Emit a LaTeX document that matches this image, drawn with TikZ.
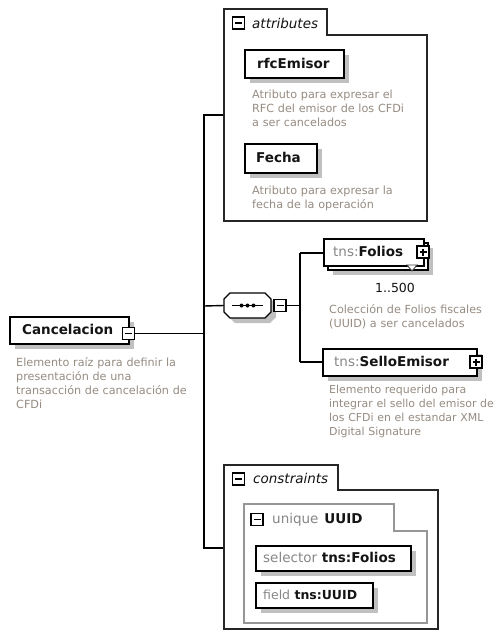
\documentclass[tikz,border=0pt]{standalone}
\usepackage{fontspec}
\setmainfont{DejaVu Sans}
\usetikzlibrary{shadows}
\definecolor{desccol}{RGB}{150,140,130}
\definecolor{lblgray}{RGB}{135,135,135}
\definecolor{shadowcol}{RGB}{192,192,192}
\definecolor{namecol}{RGB}{20,20,20}
\definecolor{uniqgray}{RGB}{150,150,150}
\begin{document}
\begin{tikzpicture}[x=1pt,y=-1pt,
  conn/.style={draw=black,line width=1.4pt},
  elbox/.style={draw=black,line width=1.5pt,fill=white,inner sep=0pt,anchor=north west,
     drop shadow={shadow xshift=5pt,shadow yshift=-5pt,fill=shadowcol,opacity=1}},
  elboxns/.style={draw=black,line width=1.5pt,fill=white,inner sep=0pt,anchor=north west},
  nametxt/.style={font=\fontsize{13.5}{16}\selectfont\bfseries,text=namecol,inner sep=0pt,anchor=base west},
  desc/.style={font=\fontsize{11.2}{14}\selectfont,text=desccol,align=left,text width=200pt,inner sep=0pt,anchor=base west},
  hdr/.style={font=\fontsize{13.5}{16}\selectfont\itshape,text=namecol,inner sep=0pt,anchor=base west},
  pmbox/.style={draw=black,line width=1.6pt,fill=white,minimum size=12pt,inner sep=0pt},
  minusbox/.style={pmbox,path picture={\draw[line width=1.3pt] ([xshift=2.5pt]path picture bounding box.west) -- ([xshift=-2.5pt]path picture bounding box.east);}},
  plusbox/.style={pmbox,path picture={
     \draw[line width=1.3pt] ([xshift=2.5pt]path picture bounding box.west) -- ([xshift=-2.5pt]path picture bounding box.east);
     \draw[line width=1.3pt] ([yshift=-2.5pt]path picture bounding box.north) -- ([yshift=2.5pt]path picture bounding box.south);}},
  container/.style={draw=black!85,line width=1.1pt,fill=white},
  ucontainer/.style={draw=uniqgray,line width=1.2pt,fill=white},
]
\useasboundingbox (0,0) rectangle (496,632);
\fill[white] (0,0) rectangle (496,632);

% ---------- root element ----------
\node[elbox,minimum width=119pt,minimum height=27pt] (canc) at (9,316) {};
\node[nametxt] (cancT) at (22,334.5) {Cancelacion};
\node[minusbox] (cancpm) at (128.5,333.5) {};
\node[desc] (cancD) at (16,366) {Elemento raíz para definir la\\presentación de una\\transacción de cancelación de\\CFDi};

% ---------- trunk ----------
\coordinate (jc) at (204,333.5);
\coordinate (jt) at (204,115);
\coordinate (js) at (204,306);
\coordinate (jb) at (204,548);
\coordinate (attrL) at (224,115);
\coordinate (consL) at (224,548);
\draw[conn] (cancpm.east) -- (jc);
\draw[conn] (attrL) -- (jt) -- (jb) -- (consL);

% ---------- attributes ----------
\draw[container] (224,221) -- (224,9) -- (327,9) -- (327,35) -- (427,35) -- (427,221) -- cycle;
\node[minusbox] (attrpm) at (238.5,23) {};
\node[hdr] (attrT) at (252,28) {attributes};

\node[elbox,minimum width=99pt,minimum height=28pt] (rfc) at (244,49) {};
\node[nametxt] (rfcT) at (257,68) {rfcEmisor};
\node[desc] (rfcD) at (252,98) {Atributo para expresar el\\RFC del emisor de los CFDi\\a ser cancelados};

\node[elbox,minimum width=72pt,minimum height=29pt] (fecha) at (244,143) {};
\node[nametxt] (fechaT) at (256,162.5) {Fecha};
\node[desc] (fechaD) at (252,194) {Atributo para expresar la\\fecha de la operación};

% ---------- sequence ----------
\fill[shadowcol] (235,298) -- (270,298) -- (276,304) -- (276,317) -- (270,323) -- (235,323) -- (229,317) -- (229,304) -- cycle;
\draw[fill=white,line width=1.3pt] (230,293) -- (265,293) -- (271,299) -- (271,312) -- (265,318) -- (230,318) -- (224,312) -- (224,299) -- cycle;
\node[minimum width=47pt,minimum height=25pt,inner sep=0pt] (seq) at (247.5,305.5) {};
\draw[line width=1.2pt] (232,305.5) -- (263,305.5);
\fill (241.5,305.5) circle (2) (247.5,305.5) circle (2) (253.5,305.5) circle (2);
\node[minusbox] (seqpm) at (280,305.5) {};
\draw[conn] (js) -- (seq.west);
\coordinate (sj) at (300,305.5);
\coordinate (sjt) at (300,253);
\coordinate (sjb) at (300,362);
\draw[conn] (seqpm.east) -- (sj);
\draw[conn] (sjt) -- (sjb);

% ---------- Folios ----------
\node[elbox,minimum width=100pt,minimum height=27pt] (folB) at (327,242) {};
\node[elboxns,minimum width=100pt,minimum height=27pt] (folF) at (323,238) {};
\coordinate (folL) at (323,253);
\draw[conn] (sjt) -- (folL);
\node[nametxt] (folT) at (333,256.5) {\textcolor{lblgray}{\mdseries tns:}Folios};
\node[plusbox] (folpm) at (423,252) {};
\draw[fill=white,draw=black!75,line width=0.9pt] (407,265) -- (417,265) -- (412,271) -- cycle;
\node[font=\fontsize{12.5}{15}\selectfont,text=namecol,inner sep=0pt,anchor=base] (folM) at (395,292.5) {1..500};
\node[desc] (folD) at (329,313) {Colección de Folios fiscales\\(UUID) a ser cancelados};

% ---------- SelloEmisor ----------
\node[elbox,minimum width=154pt,minimum height=27pt] (sello) at (322,348) {};
\coordinate (selL) at (322,362);
\draw[conn] (sjb) -- (selL);
\node[nametxt] (selT) at (334,366.5) {\textcolor{lblgray}{\mdseries tns:}SelloEmisor};
\node[plusbox] (selpm) at (476,362) {};
\node[desc,font=\fontsize{10.95}{14.2}\selectfont] (selD) at (329,393) {Elemento requerido para\\integrar el sello del emisor de\\los CFDi en el estandar XML\\Digital Signature};

% ---------- constraints ----------
\draw[container] (224,629) -- (224,465) -- (338,465) -- (338,490) -- (438,490) -- (438,629) -- cycle;
\node[minusbox] (conspm) at (238.5,479) {};
\node[hdr] (consT) at (253,483) {constraints};

\draw[ucontainer] (244,623) -- (244,504) -- (394,504) -- (394,531) -- (427,531) -- (427,623) -- cycle;
\node[minusbox] (uniqpm) at (257,519.5) {};
\node[nametxt] (uniqT) at (272,523.5) {\textcolor{lblgray}{\mdseries unique}\hspace{6pt}UUID};

\node[elbox,minimum width=155pt,minimum height=25pt] (selector) at (255,545) {};
\node[nametxt] (selectorT) at (263,562.5) {\textcolor{lblgray}{\mdseries selector} tns:Folios};

\node[elbox,minimum width=117pt,minimum height=25pt] (field) at (255,582) {};
\node[nametxt,font=\fontsize{12.5}{15}\selectfont\bfseries] (fieldT) at (263,599.5) {\textcolor{lblgray}{\mdseries field} tns:UUID};
\end{tikzpicture}
\end{document}
